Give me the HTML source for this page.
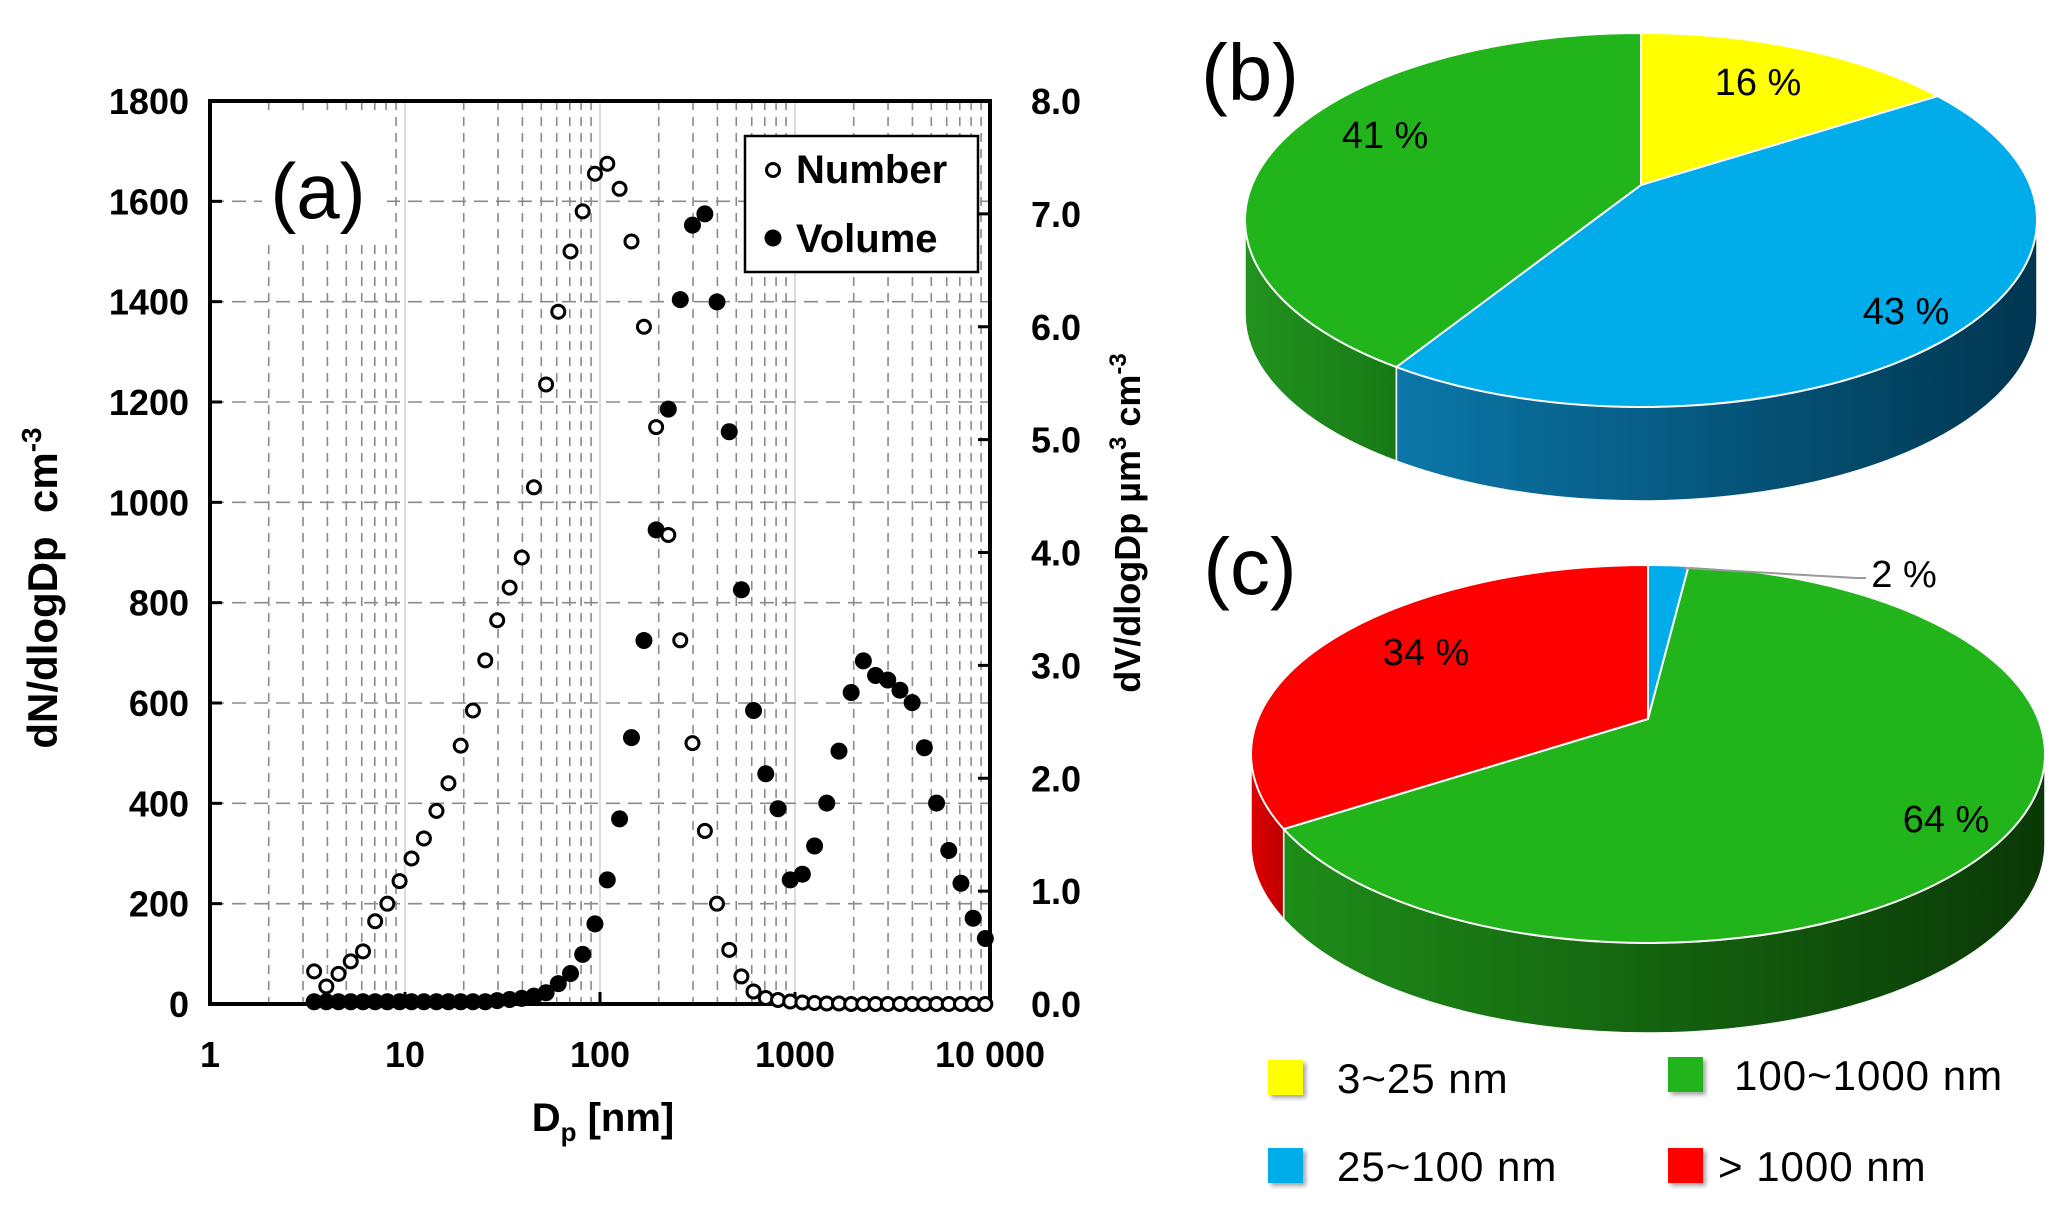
<!DOCTYPE html>
<html><head><meta charset="utf-8">
<style>
html,body{margin:0;padding:0;background:#fff;}
svg{display:block;font-family:"Liberation Sans",Arial,sans-serif;}
</style></head>
<body>
<svg id="fig" width="2067" height="1228" viewBox="0 0 2067 1228" xmlns="http://www.w3.org/2000/svg">
<defs>
<linearGradient id="gB" x1="1245" y1="0" x2="2037" y2="0" gradientUnits="userSpaceOnUse"><stop offset="0" stop-color="#0e86bd"/><stop offset="1" stop-color="#003650"/></linearGradient>
<linearGradient id="gG1" x1="1245" y1="0" x2="1420" y2="0" gradientUnits="userSpaceOnUse"><stop offset="0" stop-color="#22931e"/><stop offset="1" stop-color="#167514"/></linearGradient>
<linearGradient id="gG2" x1="1251" y1="0" x2="2045" y2="0" gradientUnits="userSpaceOnUse"><stop offset="0" stop-color="#1f9019"/><stop offset="1" stop-color="#0a3806"/></linearGradient>
<linearGradient id="gR" x1="1251" y1="0" x2="1295" y2="0" gradientUnits="userSpaceOnUse"><stop offset="0" stop-color="#e00000"/><stop offset="1" stop-color="#b00000"/></linearGradient>
<filter id="sh" x="-20%" y="-20%" width="150%" height="150%"><feDropShadow dx="3" dy="3" stdDeviation="2" flood-color="#000" flood-opacity="0.35"/></filter>
</defs>
<g id="chartA"></g>
<g id="pies"></g>
</svg>
<script>
const dp = [3.42,3.95,4.56,5.27,6.09,7.03,8.12,9.38,10.8,12.5,14.5,16.7,19.3,22.3,25.8,29.7,34.4,39.7,45.8,52.9,61.1,70.6,81.5,94.2,109,126,145,168,194,224,258,298,345,398,460,531,613,708,818,945,1091,1260,1455,1681,1941,2242,2589,2990,3454,3988,4606,5320,6144,7096,8195,9465];
const numberVals = [65,35,60,85,105,165,200,245,290,330,385,440,515,585,685,765,830,890,1030,1235,1380,1500,1580,1655,1675,1625,1520,1350,1150,935,725,520,345,200,108,55,25,12,8,5,3,2,1,1,0,0,0,0,0,0,0,0,0,0,0,0];
const volumeVals = [0.02,0.02,0.02,0.02,0.02,0.02,0.02,0.02,0.02,0.02,0.02,0.02,0.02,0.02,0.02,0.03,0.04,0.05,0.07,0.1,0.18,0.27,0.44,0.71,1.1,1.64,2.36,3.22,4.2,5.27,6.24,6.9,7.0,6.22,5.07,3.67,2.6,2.04,1.73,1.1,1.15,1.4,1.78,2.24,2.76,3.04,2.91,2.87,2.78,2.67,2.27,1.78,1.36,1.07,0.76,0.58];
const leftTicks = [0,200,400,600,800,1000,1200,1400,1600,1800];
const rightTicks = ["0.0","1.0","2.0","3.0","4.0","5.0","6.0","7.0","8.0"];
const xTickVals = [1,10,100,1000,10000];
const xTickLabels = ["1","10","100","1000","10 000"];
const pieBLabels = ["3~25 nm","25~100 nm","100~1000 nm"];
const pieBValues = [16,43,41];
const pieCLabels = ["25~100 nm","100~1000 nm","> 1000 nm"];
const pieCValues = [2,64,34];

const NS="http://www.w3.org/2000/svg";
function mk(parent,tag,attrs,text){const e=document.createElementNS(NS,tag);for(const k in attrs)e.setAttribute(k,attrs[k]);if(text!==undefined)e.textContent=text;parent.appendChild(e);return e;}

const PL=210,PR=990,PT=101,PB=1004;
const xs=v=>PL+(Math.log10(v)-0)/4*(PR-PL);
const yL=v=>PB-v/1800*(PB-PT);
const yR=v=>PB-v/8*(PB-PT);
const A=document.getElementById('chartA');

const grid=mk(A,'g',{});


for(let d=0;d<4;d++){for(let m=1;m<=9;m++){const v=Math.pow(10,d)*m;const x=xs(v);
 if(m===1){if(d>0){const l=mk(grid,'line',{x1:x,x2:x,y1:PT,y2:PB,stroke:'#d0d0d0','stroke-width':1.5});}}
 else{const l=mk(grid,'line',{x1:x,x2:x,y1:PT,y2:PB,stroke:'#8a8a8a','stroke-width':1.6,'stroke-dasharray':'9 7'});}}}
leftTicks.forEach(v=>{if(v===0||v===1800)return;const l=mk(grid,'line',{x1:PL,x2:PR,y1:yL(v),y2:yL(v),stroke:'#8a8a8a','stroke-width':1.6,'stroke-dasharray':'14 8'});});

const ab=mk(A,'rect',{x:262,y:110,width:125,height:131,fill:'#fff'});

const at=mk(A,'text',{x:318,y:218,'font-size':78,'text-anchor':'middle',fill:'#000'},'(a)');


const fr=mk(A,'rect',{x:PL,y:PT,width:PR-PL,height:PB-PT,fill:'none',stroke:'#000','stroke-width':4});


leftTicks.forEach(v=>{const y=yL(v);
 const t=mk(A,'line',{x1:PL,x2:PL+12,y1:y,y2:y,stroke:'#000','stroke-width':3});
 const tx=mk(A,'text',{x:189,y:y+13,'font-size':36,'font-weight':'bold','text-anchor':'end'},String(v));});
rightTicks.forEach(s=>{const y=yR(parseFloat(s));
 const t=mk(A,'line',{x1:PR-12,x2:PR,y1:y,y2:y,stroke:'#000','stroke-width':3});
 const tx=mk(A,'text',{x:1031,y:y+13,'font-size':36,'font-weight':'bold'},s);});
xTickVals.forEach((v,i)=>{const x=xs(v);
 const t=mk(A,'line',{x1:x,x2:x,y1:PB-12,y2:PB,stroke:'#000','stroke-width':3});
 const tx=mk(A,'text',{x:x,y:1067,'font-size':36,'font-weight':'bold','text-anchor':'middle'},xTickLabels[i]);});

const xt=mk(A,'text',{x:603,y:1131,'font-size':40,'font-weight':'bold','text-anchor':'middle'});

xt.innerHTML='D<tspan font-size="26" dy="10">p</tspan><tspan dy="-10"> [nm]</tspan>';
const ylt=mk(A,'text',{transform:'translate(57,588) rotate(-90)','font-size':42,'font-weight':'bold','text-anchor':'middle'});

ylt.innerHTML='dN/dlogDp\u00a0\u00a0cm<tspan font-size="28" dy="-16">-3</tspan>';
const yrt=mk(A,'text',{transform:'translate(1140,523) rotate(-90)','font-size':36,'font-weight':'bold','text-anchor':'middle'});

yrt.innerHTML='dV/dlogDp µm<tspan font-size="24" dy="-14">3</tspan><tspan dy="14"> cm</tspan><tspan font-size="24" dy="-14">-3</tspan>';

const gv=mk(A,'g',{});
volumeVals.forEach((v,i)=>{const c=mk(gv,'circle',{cx:xs(dp[i]),cy:yR(v),r:8.5,fill:'#000'});});
const gn=mk(A,'g',{});
numberVals.forEach((v,i)=>{const c=mk(gn,'circle',{cx:xs(dp[i]),cy:yL(v),r:6.5,fill:'#fff',stroke:'#000','stroke-width':3});});

const lg=mk(A,'g',{});
const lb=mk(lg,'rect',{x:745,y:136,width:233,height:136,fill:'#fff',stroke:'#000','stroke-width':2.5});
const l1=mk(lg,'circle',{cx:773,cy:170,r:6.5,fill:'#fff',stroke:'#000','stroke-width':3});
const l1t=mk(lg,'text',{x:796,y:183,'font-size':40,'font-weight':'bold'},'Number');
const l2=mk(lg,'circle',{cx:773,cy:238,r:8.5,fill:'#000'});
const l2t=mk(lg,'text',{x:796,y:252,'font-size':40,'font-weight':'bold'},'Volume');

const P=document.getElementById('pies');
function ptOnEllipse(cx,cy,rx,ry,phi){const r=phi*Math.PI/180;return [cx+rx*Math.sin(r),cy-ry*Math.cos(r)];}
function boundaryPhi(theta,off,rx){
 const t=theta*Math.PI/180;const dx=Math.sin(t),dy=-Math.cos(t);
 const pd=off*dy;const tt=-pd+Math.sqrt(pd*pd-(off*off-rx*rx));
 const ux=tt*dx,uy=off+tt*dy;return Math.atan2(ux,-uy)*180/Math.PI;}
function drawPie(cfg,vals,labels,fills,sides,names){
 const {cx,cy,rx,ry,apexY,depth}=cfg;const off=(apexY-cy)*rx/ry;
 const g=mk(P,'g',{});
 let acc=0;const segs=[];
 vals.forEach(v=>{const t0=acc/100*360;acc+=v;const t1=acc/100*360;
  let p0=boundaryPhi(t0,off,rx),p1=boundaryPhi(t1,off,rx);
  p0=(p0+360)%360; p1=(p1+360)%360; if(t1>=359.999)p1=360; if(p1<=p0)p1+=360; segs.push([p0,p1]);});
 segs.forEach((s,i)=>{const a=Math.max(s[0],90),b=Math.min(s[1],270);if(b<=a)return;
  const A1=ptOnEllipse(cx,cy,rx,ry,a),B1=ptOnEllipse(cx,cy,rx,ry,b);
  const d=`M${A1[0]},${A1[1]} A${rx},${ry} 0 0 1 ${B1[0]},${B1[1]} L${B1[0]},${B1[1]+depth} A${rx},${ry} 0 0 0 ${A1[0]},${A1[1]+depth} Z`;
  const p=mk(g,'path',{d:d,fill:sides[i],stroke:'#fff','stroke-width':1.5});
  });
 segs.forEach((s,i)=>{const A1=ptOnEllipse(cx,cy,rx,ry,s[0]),B1=ptOnEllipse(cx,cy,rx,ry,s[1]);
  const large=(s[1]-s[0])>180?1:0;
  const d=`M${cx},${apexY} L${A1[0]},${A1[1]} A${rx},${ry} 0 ${large} 1 ${B1[0]},${B1[1]} Z`;
  const p=mk(g,'path',{d:d,fill:fills[i],stroke:'#fff','stroke-width':2});
  });
 return g;}

const gb=drawPie({cx:1641,cy:220,rx:396,ry:187,apexY:185,depth:94,name:'pie-b'},pieBValues,pieBLabels,['#ffff00','#00adea','#21b41b'],['#ffff00','url(#gB)','url(#gG1)'],['slice-3-25nm','slice-25-100nm','slice-100-1000nm']);
const gc=drawPie({cx:1648,cy:754,rx:397,ry:189,apexY:719,depth:90,name:'pie-c'},pieCValues,pieCLabels,['#00adea','#21b41b','#ff0000'],['#00adea','url(#gG2)','url(#gR)'],['slice-25-100nm','slice-100-1000nm','slice-over-1000nm']);

function lbl(parent,x,y,s,name){const t=mk(parent,'text',{x:x,y:y,'font-size':38,'text-anchor':'middle',fill:'#000'},s);}
lbl(gb,1758,95,pieBValues[0]+' %','pie-b-value-3-25nm');
lbl(gb,1906,324,pieBValues[1]+' %','pie-b-value-25-100nm');
lbl(gb,1385,148,pieBValues[2]+' %','pie-b-value-100-1000nm');
const ll=mk(gc,'path',{d:'M1684,568 L1856,578 L1866,578',stroke:'#999','stroke-width':2,fill:'none'});
lbl(gc,1904,587,pieCValues[0]+' %','pie-c-value-25-100nm');
lbl(gc,1946,832,pieCValues[1]+' %','pie-c-value-100-1000nm');
lbl(gc,1426,665,pieCValues[2]+' %','pie-c-value-over-1000nm');

const pb=mk(P,'text',{x:1250,y:100,'font-size':80,'text-anchor':'middle'},'(b)');
const pc=mk(P,'text',{x:1250,y:594,'font-size':80,'text-anchor':'middle'},'(c)');

const legCols=['#ffff00','#00adea','#21b41b','#ff0000'];
const legText=['3~25 nm','25~100 nm','100~1000 nm','> 1000 nm'];
const legX=[1268,1268,1668,1668],legTX=[1337,1337,1734,1718],legY=[1078,1166,1075,1166];
const pl=mk(P,'g',{});
legText.forEach((s,i)=>{const e=mk(pl,'g',{});
 const r=mk(e,'rect',{x:legX[i],y:legY[i]-18,width:35,height:35,fill:legCols[i],filter:'url(#sh)'});
 const t=mk(e,'text',{x:legTX[i],y:legY[i]+15,'font-size':42,'letter-spacing':1},s);});
</script>
</body></html>
